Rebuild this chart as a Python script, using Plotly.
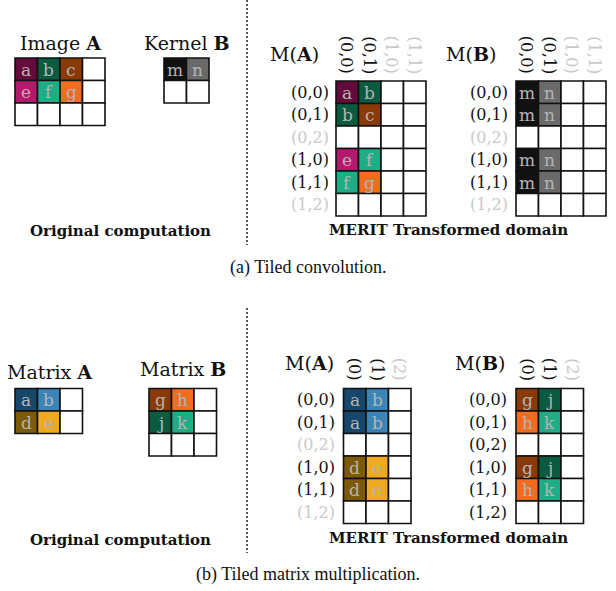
import plotly.graph_objects as go

# ---------------- data ----------------
cell_colors = {
    "a": "#650b3c", "b": "#0b5b40", "c": "#8a3a07", "e": "#b3196c",
    "f": "#1fad85", "g": "#f06c1f", "m": "#111111", "n": "#6a6a6a",
}
mm_colors = {
    "a": "#17476b", "b": "#3a84b7", "d": "#7c5a06", "e": "#efa921",
    "g": "#8a3a07", "h": "#f06c1f", "j": "#0b5b40", "k": "#1fad85",
}

image_A = [["a", "b", "c", ""], ["e", "f", "g", ""], ["", "", "", ""]]
kernel_B = [["m", "n"], ["", ""]]
MA_conv = [["a", "b", "", ""], ["b", "c", "", ""], ["", "", "", ""],
           ["e", "f", "", ""], ["f", "g", "", ""], ["", "", "", ""]]
MB_conv = [["m", "n", "", ""], ["m", "n", "", ""], ["", "", "", ""],
           ["m", "n", "", ""], ["m", "n", "", ""], ["", "", "", ""]]
row_labels = ["(0,0)", "(0,1)", "(0,2)", "(1,0)", "(1,1)", "(1,2)"]
row_active = [True, True, False, True, True, False]
row_active_all = [True] * 6
conv_col_labels = ["(0,0)", "(0,1)", "(1,0)", "(1,1)"]
conv_col_active = [True, True, False, False]

matrix_A = [["a", "b", ""], ["d", "e", ""]]
matrix_B = [["g", "h", ""], ["j", "k", ""], ["", "", ""]]
MA_mm = [["a", "b", ""], ["a", "b", ""], ["", "", ""],
         ["d", "e", ""], ["d", "e", ""], ["", "", ""]]
MB_mm = [["g", "j", ""], ["h", "k", ""], ["", "", ""],
         ["g", "j", ""], ["h", "k", ""], ["", "", ""]]
mm_col_labels = ["(0)", "(1)", "(2)"]
mm_col_active = [True, True, False]

# ---------------- layout helpers ----------------
W, H = 616, 591
CELL = 22.5
SERIF = "DejaVu Serif"
GRAY = "#c9c9c9"
LETTER = "#b5b5b5"

shapes = []
annotations = []


def grid(x0, y0, mat, colors):
    for r, row in enumerate(mat):
        for c, v in enumerate(row):
            xa, ya = x0 + c * CELL, y0 + r * CELL
            shapes.append(dict(type="rect", xref="x", yref="y",
                               x0=xa, x1=xa + CELL, y0=ya, y1=ya + CELL,
                               fillcolor=colors.get(v, "white") if v else "white",
                               line=dict(color="#111111", width=1.6), layer="above"))
            if v:
                annotations.append(dict(x=xa + CELL / 2, y=ya + CELL / 2 + 0.5, text=v,
                                        showarrow=False, xanchor="center", yanchor="middle",
                                        font=dict(family=SERIF, size=17, color=LETTER)))


def row_lab(xr, y0, labels, active):
    for r, (t, a) in enumerate(zip(labels, active)):
        annotations.append(dict(x=xr, y=y0 + r * CELL + CELL / 2, text=t, showarrow=False,
                                xanchor="right", yanchor="middle",
                                font=dict(family=SERIF, size=16, color="#111111" if a else GRAY)))


def col_lab(x0, ybot, labels, active):
    for c, (t, a) in enumerate(zip(labels, active)):
        annotations.append(dict(x=x0 + c * CELL + CELL / 2, y=ybot, text=t, showarrow=False,
                                textangle=90, xanchor="center", yanchor="bottom",
                                font=dict(family=SERIF, size=16, color="#111111" if a else GRAY)))


def text(x, y, t, size, family=SERIF, color="#111111"):
    annotations.append(dict(x=x, y=y, text=t, showarrow=False, xanchor="center",
                            yanchor="middle", font=dict(family=family, size=size, color=color)))


# ---------------- panel (a) ----------------
text(60, 43, "Image <b>A</b>", 19)
grid(15, 58, image_A, cell_colors)
text(187, 43, "Kernel <b>B</b>", 19)
grid(164, 58, kernel_B, cell_colors)

text(294, 54, "M(<b>A</b>)", 19)
col_lab(336, 76, conv_col_labels, conv_col_active)
row_lab(331, 81, row_labels, row_active)
grid(336, 81, MA_conv, cell_colors)

text(471, 54, "M(<b>B</b>)", 19)
col_lab(516, 76, conv_col_labels, conv_col_active)
row_lab(510, 81, row_labels, row_active)
grid(516, 81, MB_conv, cell_colors)

text(120, 231, "<b>Original computation</b>", 15)
text(448, 230, "<b>MERIT Transformed domain</b>", 15)
text(308, 267, "(a) Tiled convolution.", 18, family="Liberation Serif")

# ---------------- panel (b) ----------------
text(49, 372, "Matrix <b>A</b>", 19)
grid(15, 388.5, matrix_A, mm_colors)
text(183, 369, "Matrix <b>B</b>", 19)
grid(149, 388.5, matrix_B, mm_colors)

text(309, 363, "M(<b>A</b>)", 19)
col_lab(343.5, 383, mm_col_labels, mm_col_active)
row_lab(337, 388.5, row_labels, row_active)
grid(343.5, 388.5, MA_mm, mm_colors)

text(480, 363, "M(<b>B</b>)", 19)
col_lab(516, 383, mm_col_labels, mm_col_active)
row_lab(509, 388.5, row_labels, row_active_all)
grid(516, 388.5, MB_mm, mm_colors)

text(120, 540, "<b>Original computation</b>", 15)
text(448, 538, "<b>MERIT Transformed domain</b>", 15)
text(308, 574, "(b) Tiled matrix multiplication.", 18, family="Liberation Serif")

# dotted separators
for y0, y1 in [(0, 245), (308, 553)]:
    shapes.append(dict(type="line", xref="x", yref="y", x0=247, x1=247, y0=y0, y1=y1,
                       line=dict(color="#111111", width=1.4, dash="2px,2px")))

fig = go.Figure()
fig.update_layout(
    width=W, height=H, margin=dict(l=0, r=0, t=0, b=0),
    paper_bgcolor="white", plot_bgcolor="white",
    xaxis=dict(range=[0, W], visible=False, fixedrange=True),
    yaxis=dict(range=[H, 0], visible=False, fixedrange=True),
    shapes=shapes, annotations=annotations, showlegend=False,
)
fig.write_html("out.html", config={"displayModeBar": False, "staticPlot": True},
               post_script="document.body.style.margin='0px';document.body.style.overflow='hidden';")
